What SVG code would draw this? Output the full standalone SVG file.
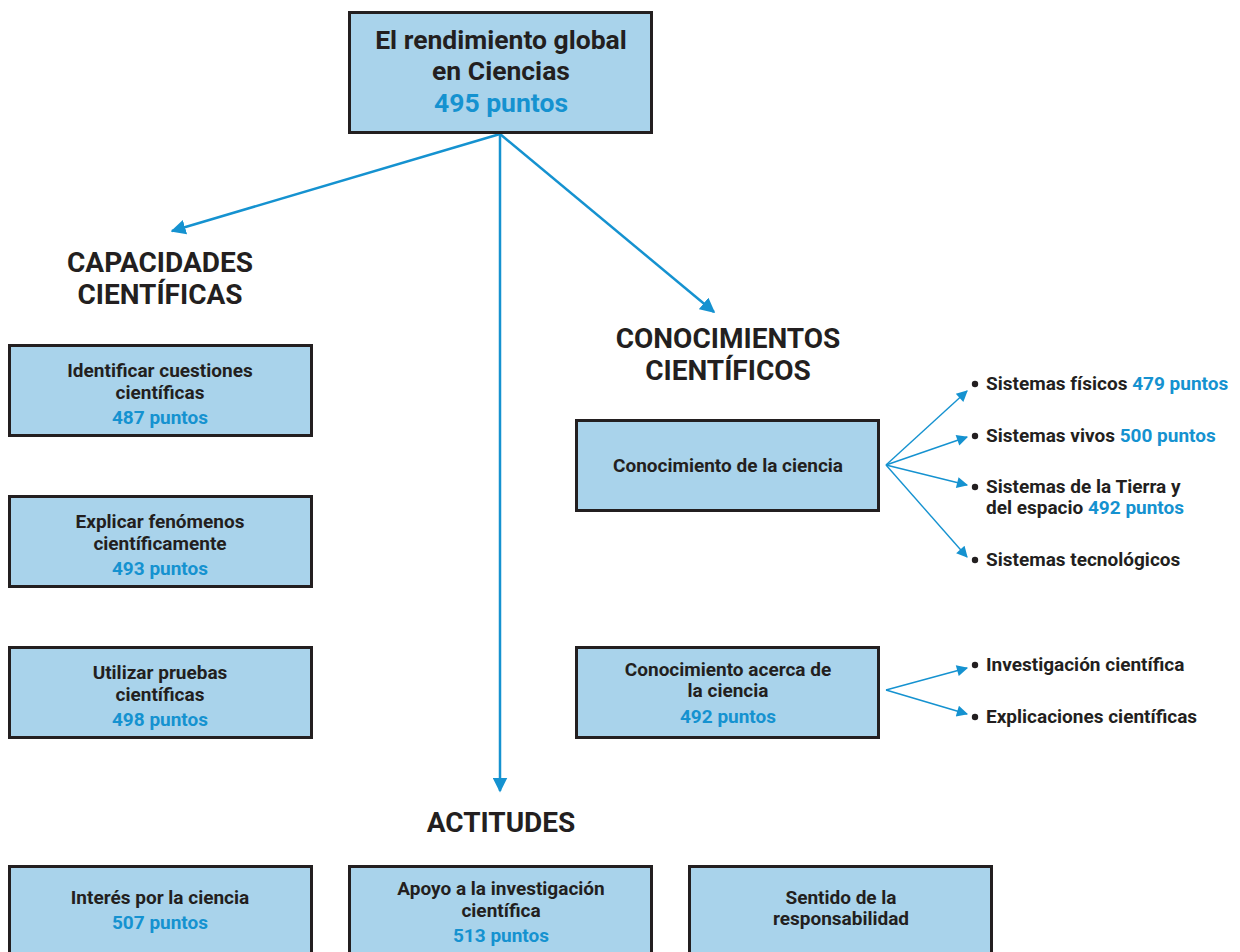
<svg xmlns="http://www.w3.org/2000/svg" width="1240" height="952" viewBox="0 0 1240 952">
<style>
.box{fill:#a9d3eb;stroke:#231f20;stroke-width:3}
text{font-family:Roboto,"Liberation Sans",sans-serif;font-weight:700;fill:#231f20}
.b{fill:#1592d0}
.t{font-size:26.5px;text-anchor:middle}
.h{font-size:28px;text-anchor:middle}
.s{font-size:19px;text-anchor:middle}
.l{font-size:19px}
.dot{fill:#231f20}
.main{stroke:#1592d0;stroke-width:2.5;fill:none}
.fan{stroke:#1592d0;stroke-width:1.4;fill:none}
</style>
<defs>
<marker id="ah" viewBox="0 0 10 10" refX="9" refY="5" markerWidth="6" markerHeight="6" orient="auto" markerUnits="strokeWidth"><path d="M0,0 L10,5 L0,10 z" fill="#1592d0"/></marker>
<marker id="ah2" viewBox="0 0 10 10" refX="9" refY="5" markerWidth="10" markerHeight="8" orient="auto" markerUnits="strokeWidth"><path d="M0,0 L10,5 L0,10 z" fill="#1592d0"/></marker>
</defs>
<g id="connectors">
<line class="main" x1="500" y1="134" x2="172" y2="231" marker-end="url(#ah)"/>
<line class="main" x1="500" y1="134" x2="500" y2="791" marker-end="url(#ah)"/>
<line class="main" x1="500" y1="134" x2="714" y2="312" marker-end="url(#ah)"/>
<line class="fan" x1="886" y1="465" x2="967" y2="391" marker-end="url(#ah2)"/>
<line class="fan" x1="886" y1="465" x2="967" y2="437" marker-end="url(#ah2)"/>
<line class="fan" x1="886" y1="465" x2="967" y2="485" marker-end="url(#ah2)"/>
<line class="fan" x1="886" y1="465" x2="967" y2="557" marker-end="url(#ah2)"/>
<line class="fan" x1="886" y1="690" x2="967" y2="668" marker-end="url(#ah2)"/>
<line class="fan" x1="886" y1="690" x2="967" y2="714" marker-end="url(#ah2)"/>
</g>
<g id="global">
<rect class="box" x="349.5" y="12.5" width="302" height="120"/>
<text class="t" x="501" y="49">El rendimiento global</text>
<text class="t" x="501" y="80">en Ciencias</text>
<text class="t b" x="501" y="112">495 puntos</text>
</g>
<g id="capacidades-title">
<text class="h" x="160" y="272">CAPACIDADES</text>
<text class="h" x="160" y="304">CIENTÍFICAS</text>
</g>
<g id="identificar">
<rect class="box" x="9.5" y="345.5" width="302" height="90"/>
<text class="s" x="160" y="377">Identificar cuestiones</text>
<text class="s" x="160" y="399">científicas</text>
<text class="s b" x="160" y="424">487 puntos</text>
</g>
<g id="explicar">
<rect class="box" x="9.5" y="496.5" width="302" height="90"/>
<text class="s" x="160" y="528">Explicar fenómenos</text>
<text class="s" x="160" y="550">científicamente</text>
<text class="s b" x="160" y="575">493 puntos</text>
</g>
<g id="utilizar">
<rect class="box" x="9.5" y="647.5" width="302" height="90"/>
<text class="s" x="160" y="679">Utilizar pruebas</text>
<text class="s" x="160" y="701">científicas</text>
<text class="s b" x="160" y="726">498 puntos</text>
</g>
<g id="conocimientos-title">
<text class="h" x="728" y="348">CONOCIMIENTOS</text>
<text class="h" x="728" y="380">CIENTÍFICOS</text>
</g>
<g id="conocimiento-ciencia">
<rect class="box" x="576.5" y="420.5" width="302" height="90"/>
<text class="s" x="728" y="472">Conocimiento de la ciencia</text>
</g>
<g id="conocimiento-acerca">
<rect class="box" x="576.5" y="647.5" width="302" height="90"/>
<text class="s" x="728" y="676">Conocimiento acerca de</text>
<text class="s" x="728" y="697">la ciencia</text>
<text class="s b" x="728" y="723">492 puntos</text>
</g>
<g id="sistemas-fisicos"><circle class="dot" cx="975" cy="384" r="3.2"/><text class="l" x="986" y="390">Sistemas físicos <tspan class="b">479 puntos</tspan></text></g>
<g id="sistemas-vivos"><circle class="dot" cx="975" cy="436" r="3.2"/><text class="l" x="986" y="442">Sistemas vivos <tspan class="b">500 puntos</tspan></text></g>
<g id="sistemas-tierra"><circle class="dot" cx="975" cy="487" r="3.2"/><text class="l" x="986" y="493">Sistemas de la Tierra y</text><text class="l" x="986" y="514">del espacio <tspan class="b">492 puntos</tspan></text></g>
<g id="sistemas-tecnologicos"><circle class="dot" cx="975" cy="560" r="3.2"/><text class="l" x="986" y="566">Sistemas tecnológicos</text></g>
<g id="investigacion"><circle class="dot" cx="975" cy="665" r="3.2"/><text class="l" x="986" y="671">Investigación científica</text></g>
<g id="explicaciones"><circle class="dot" cx="975" cy="717" r="3.2"/><text class="l" x="986" y="723">Explicaciones científicas</text></g>
<g id="actitudes-title"><text class="h" x="501" y="832">ACTITUDES</text></g>
<g id="interes">
<rect class="box" x="9.5" y="866.5" width="302" height="100"/>
<text class="s" x="160" y="904">Interés por la ciencia</text>
<text class="s b" x="160" y="929">507 puntos</text>
</g>
<g id="apoyo">
<rect class="box" x="349.5" y="866.5" width="302" height="100"/>
<text class="s" x="501" y="895">Apoyo a la investigación</text>
<text class="s" x="501" y="917">científica</text>
<text class="s b" x="501" y="942">513 puntos</text>
</g>
<g id="sentido">
<rect class="box" x="689.5" y="866.5" width="302" height="100"/>
<text class="s" x="841" y="904">Sentido de la</text>
<text class="s" x="841" y="925">responsabilidad</text>
</g>
</svg>
